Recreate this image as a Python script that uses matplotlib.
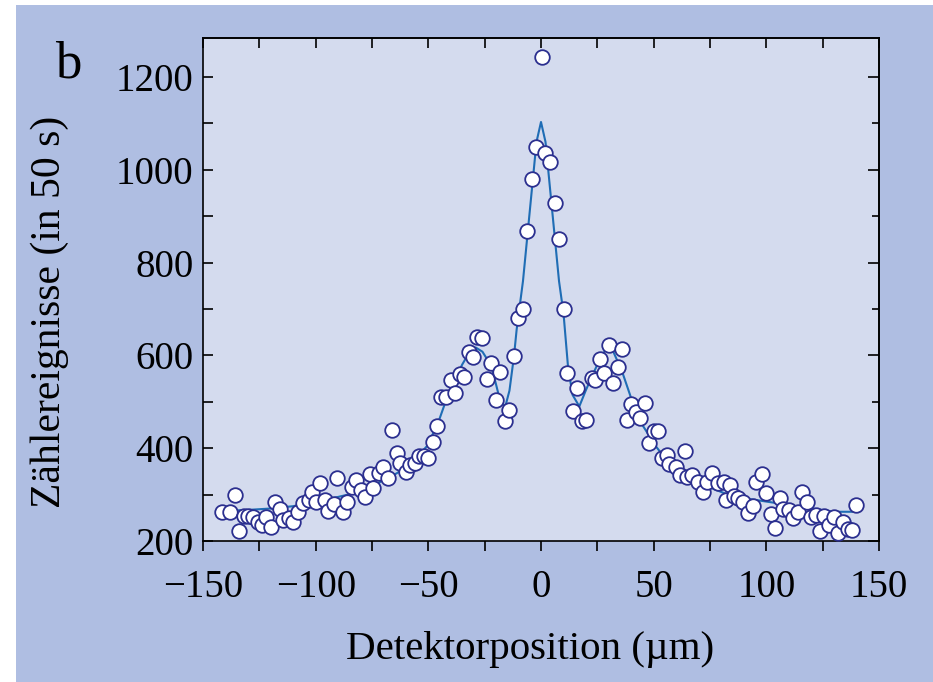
#!/usr/bin/env python3
"""Counts vs detector position: measured points and fitted curve (panel b)."""
import matplotlib
matplotlib.use("Agg")
import matplotlib.pyplot as plt
from matplotlib.patches import Rectangle
from matplotlib.ticker import MultipleLocator

# measured counts per 50 s
pos_um = [
    -141.6, -138, -136, -134, -132, -130, -128, -125.6, -124, -122, -120, -118,
    -116, -114.5, -112, -110, -108, -105.6, -103, -101.6, -100, -98, -96, -94.5,
    -92, -90.5, -88, -86, -84, -82, -80, -78, -76, -74.5, -72, -70, -68, -66,
    -64, -62.5, -60, -58, -56, -54, -52, -50, -48, -46,
    -44.5, -42, -40, -38, -36, -34, -32, -30, -28.3, -26, -24, -22, -20, -18,
    -16, -14, -12, -10.3, -8, -6, -4, -2.2, 0.3, 1.8, 4, 6, 8, 10, 11.7, 14,
    15.8, 18, 20, 22.5, 24, 26, 28, 30, 32, 34, 36, 38, 40, 42, 44, 46, 48, 50,
    52, 53.5, 56, 57, 60, 61.7, 64, 65, 67, 69.5, 72, 73.5, 76, 78.7, 81, 82,
    84, 85.7, 87.6, 89.8, 92, 94, 95.4, 98, 100, 102, 104, 106, 107.6, 110, 112,
    114, 115.7, 118, 120, 122, 124, 125.6, 128, 130, 132, 134, 136.4, 138, 140,
]
counts = [
    263, 263, 299, 222, 254, 254, 252, 241, 235, 252, 230, 284,
    269, 245, 249, 241, 263, 282, 289, 306, 284, 325, 289, 265,
    280, 336, 263, 284, 317, 332, 310, 295, 345, 314, 347, 360, 336, 440,
    390, 368, 349, 364, 368, 383, 383, 379, 414, 448,
    511, 511, 546, 520, 560, 553, 607, 597, 640, 638, 549, 584, 504, 564,
    458, 482, 598, 681, 699, 869, 981, 1050, 1243, 1036, 1017, 929, 850, 699, 562, 481,
    530, 458, 461, 551, 548, 592, 562, 623, 541, 574, 614, 460, 496, 479, 466, 497, 412, 436,
    438, 379, 386, 366, 360, 343, 395, 339, 343, 328, 306, 328, 347, 325, 328, 289,
    321, 297, 292, 283, 261, 276, 328, 345, 303, 258, 227, 292, 270, 267, 249,
    263, 306, 283, 251, 256, 222, 254, 234, 252, 218, 240, 225, 224, 278,
]

# fitted curve
fit_x = [
    -140, -130, -120, -110, -100, -90, -83, -75, -64, -58, -50.7, -46, -42, -38,
    -35, -32, -29, -26, -22, -19, -16, -14, -12, -10.8, -8, -6, -4, -2, 0,
    2, 4, 6, 8, 10, 12, 14, 17, 20, 24.7, 29, 32, 36, 40, 45, 51, 59, 70, 85,
    100, 115, 130, 140,
]
fit_y = [
    265, 267, 270, 275, 285, 295, 303, 318, 346, 365, 404, 450, 505, 550,
    580, 605, 617, 608, 577, 519, 487, 524, 598, 656, 760, 860, 960, 1060, 1103,
    1060, 960, 860, 760, 690, 575, 515, 490, 526, 577, 616, 609, 565, 508, 450, 404, 353, 325, 296,
    285, 274, 263, 263,
]

W, H, DPI = 933, 682, 100
OUTER_BG = "#afbee2"
INNER_BG = "#d4dbee"
LINE_COLOR = "#1f6db5"
EDGE_COLOR = "#2b2f8f"
FONT = ["Liberation Serif", "DejaVu Serif"]

plt.rcParams["font.family"] = FONT
plt.rcParams["axes.linewidth"] = 1.2

fig = plt.figure(figsize=(W / DPI, H / DPI), dpi=DPI, facecolor="white")
fig.patches.append(Rectangle((16 / W, 0), 1, 1 - 5 / H, transform=fig.transFigure,
                             facecolor=OUTER_BG, edgecolor="none", zorder=-10))

left, right, top, bottom = 203 / W, 879 / W, 1 - 38 / H, 1 - 541 / H
ax = fig.add_axes([left, bottom, right - left, top - bottom], facecolor=INNER_BG)

ax.plot(fit_x, fit_y, color=LINE_COLOR, linewidth=1.5, zorder=2)
ax.plot(pos_um, counts, linestyle="none", marker="o", markersize=10.5,
        markerfacecolor="white", markeredgecolor=EDGE_COLOR, markeredgewidth=1.3,
        zorder=3, clip_on=False)

ax.set_xlim(-150, 150)
ax.set_ylim(200, 1284)
ax.xaxis.set_major_locator(MultipleLocator(50))
ax.xaxis.set_minor_locator(MultipleLocator(25))
ax.yaxis.set_major_locator(MultipleLocator(200))
ax.yaxis.set_minor_locator(MultipleLocator(100))

ax.tick_params(axis="x", which="both", direction="out", length=7, width=1.2,
               top=False, labelsize=28, pad=13)
ax.tick_params(axis="y", which="both", direction="in", length=7, width=1.2,
               right=False, labelsize=28, pad=7)

top_ax = ax.secondary_xaxis("top")
top_ax.xaxis.set_major_locator(MultipleLocator(50))
top_ax.xaxis.set_minor_locator(MultipleLocator(25))
top_ax.tick_params(which="both", direction="in", length=7, width=1.2, labeltop=False)

right_ax = ax.secondary_yaxis("right")
right_ax.yaxis.set_major_locator(MultipleLocator(200))
right_ax.yaxis.set_minor_locator(MultipleLocator(100))
right_ax.tick_params(which="major", direction="in", length=8, width=1.2, labelright=False)
right_ax.tick_params(which="minor", direction="in", length=5, width=1.2)

ax.set_xlabel("Detektorposition (µm)", fontsize=29.5, va="center")
ax.xaxis.set_label_coords((530 - 203) / 676, (541 - 650) / 503)
ax.set_ylabel("Zählereignisse (in 50 s)", fontsize=30, va="center")
ax.yaxis.set_label_coords((50 - 203) / 676, (541 - 312) / 503)

fig.text(55 / W, 1 - 77 / H, "b", fontsize=38, va="baseline", ha="left")

fig.savefig("out.png", dpi=DPI, facecolor=fig.get_facecolor())
